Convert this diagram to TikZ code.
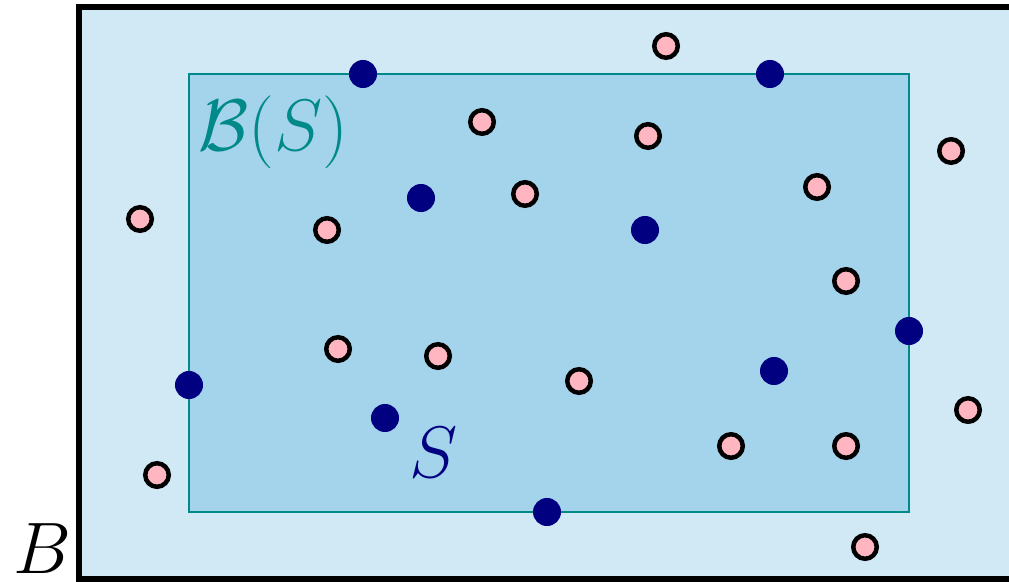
\documentclass[tikz,border=0pt]{standalone}
\begin{document}
\definecolor{boxouter}{RGB}{209,232,245}
\definecolor{boxinner}{RGB}{164,211,236}
\definecolor{ptpink}{RGB}{255,182,193}
\definecolor{ptnavy}{RGB}{0,0,128}
\definecolor{bbteal}{RGB}{0,137,137}
\begin{tikzpicture}[x=0.01cm, y=-0.01cm,
  sel/.style={circle, fill=ptnavy, inner sep=0pt, minimum size=0.28cm},
  rest/.style={circle, draw=black, fill=ptpink, line width=0.045cm, inner sep=0pt, minimum size=0.235cm},
  lab/.style={inner sep=0pt, font=\fontsize{21}{25}\selectfont}]
  \useasboundingbox (0, 0) rectangle (1009, 582);
  \clip (0, 0) rectangle (1009, 582);

  % Outer box B
  \draw[line width=0.06cm, fill=boxouter] (79, 7) rectangle (1040, 579);

  % Bounding box of S
  \draw[line width=0.027cm, bbteal, fill=boxinner] (189, 74) rectangle (909, 512);

  % Points not in S
  \node[rest] (p1) at (666, 46) {};
  \node[rest] (p2) at (482, 122) {};
  \node[rest] (p3) at (648, 136) {};
  \node[rest] (p4) at (951, 151) {};
  \node[rest] (p5) at (140, 219) {};
  \node[rest] (p6) at (327, 230) {};
  \node[rest] (p7) at (525, 194) {};
  \node[rest] (p8) at (817, 187) {};
  \node[rest] (p9) at (846, 281) {};
  \node[rest] (p10) at (338, 349) {};
  \node[rest] (p11) at (438, 356) {};
  \node[rest] (p12) at (579, 381) {};
  \node[rest] (p13) at (968, 410) {};
  \node[rest] (p14) at (157, 475) {};
  \node[rest] (p15) at (731, 446) {};
  \node[rest] (p16) at (846, 446) {};
  \node[rest] (p17) at (865, 547) {};

  % Points of S
  \node[sel] (s1) at (363, 74) {};
  \node[sel] (s2) at (770, 74) {};
  \node[sel] (s3) at (421, 198) {};
  \node[sel] (s4) at (645, 230) {};
  \node[sel] (s5) at (909, 331) {};
  \node[sel] (s6) at (189, 385) {};
  \node[sel] (s7) at (774, 371) {};
  \node[sel] (s8) at (385, 418) {};
  \node[sel] (s9) at (547, 512) {};

  % Labels
  \node[lab, bbteal, anchor=base west, font=\fontsize{22}{26}\selectfont] (lbs) at (198, 151) {$\mathcal{B}(S)$};
  \node[lab, ptnavy, anchor=base] (ls) at (434, 477) {$S$};
  \node[lab, anchor=base west] (lb) at (13, 573) {$B$};
\end{tikzpicture}
\end{document}
